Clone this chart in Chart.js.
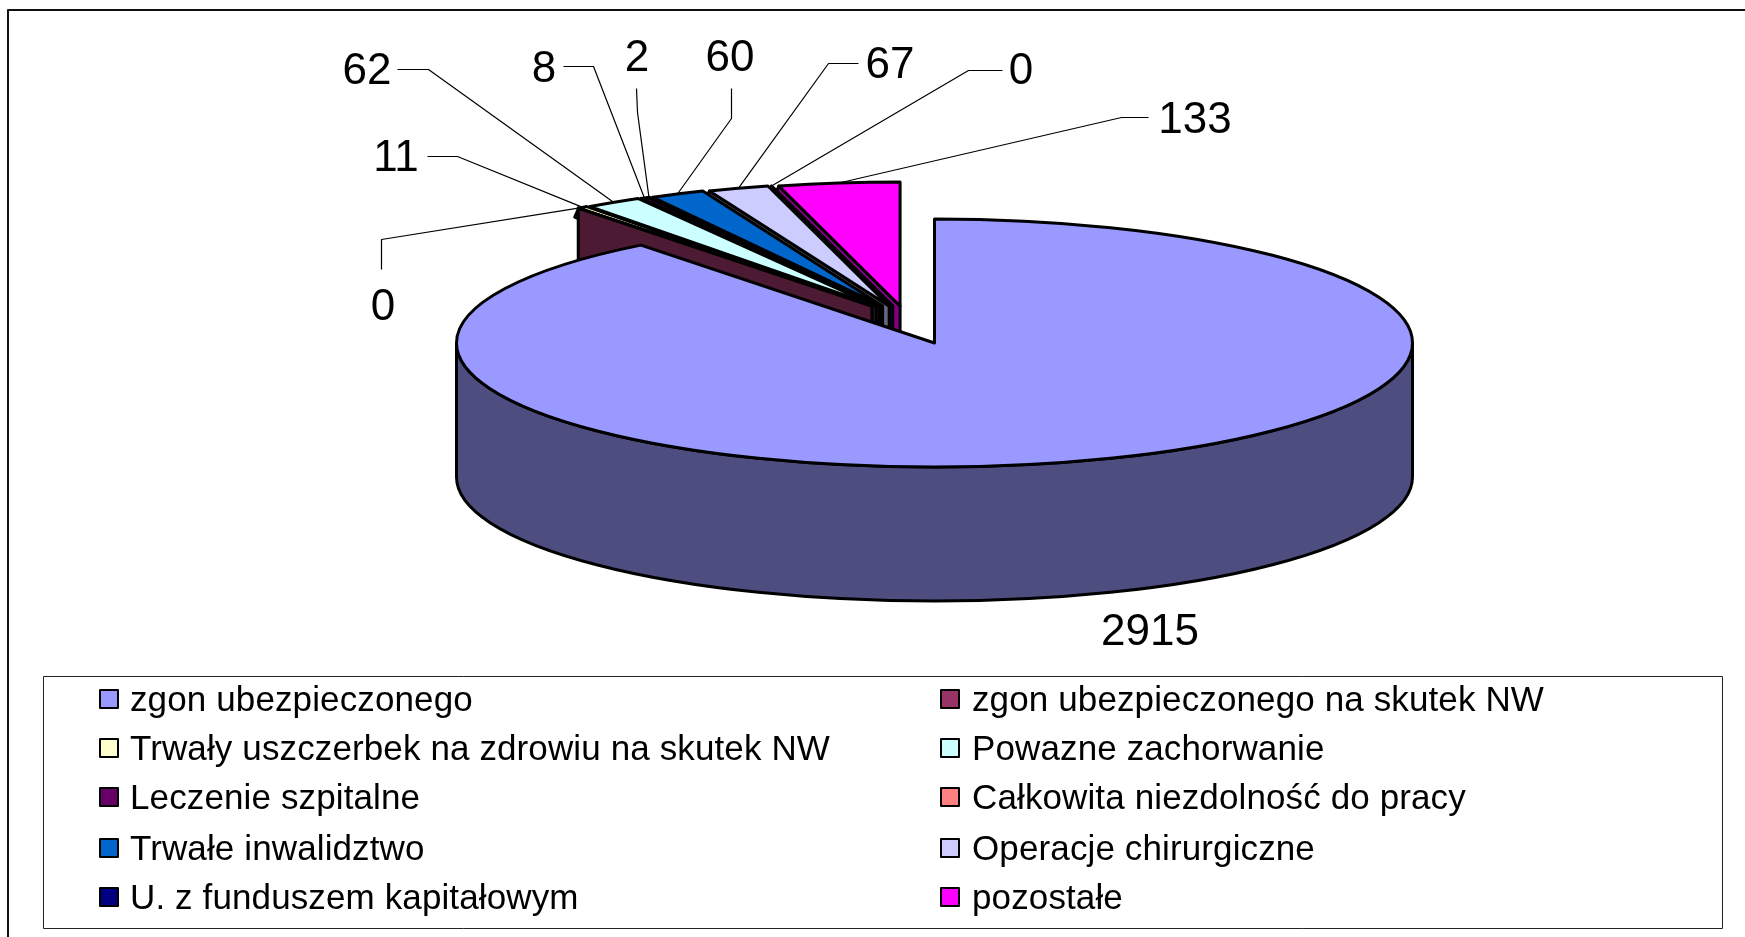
<!DOCTYPE html>
<html><head><meta charset="utf-8">
<style>html,body{margin:0;padding:0;background:#fff;overflow:hidden}canvas{display:block}</style>
<script src="https://cdn.jsdelivr.net/npm/chart.js@4/dist/chart.umd.min.js"></script>
</head><body><canvas id="c" width="1745" height="937"></canvas>
<script>
const categories=["zgon ubezpieczonego","zgon ubezpieczonego na skutek NW","Trwały uszczerbek na zdrowiu na skutek NW","Powazne zachorwanie","Leczenie szpitalne","Całkowita niezdolność do pracy","Trwałe inwalidztwo","Operacje chirurgiczne","U. z funduszem kapitałowym","pozostałe"];
const values=[2915,0,11,62,8,2,60,67,0,133];
const topColors=["#9999FF","#993366","#FFFFCC","#CCFFFF","#660066","#FF8080","#0066CC","#CCCCFF","#000080","#FF00FF"];
const wallColors=["#4D4D80","#4D1A33","#808066","#668080","#330033","#804040","#003366","#666680","#000040","#800080"];
// value label centres and leader bend points (annotation layout)
const labelLayout=[
 {i:0,x:1150,y:633,leader:null},
 {i:1,x:383,y:308,leader:[[381,269],[381,239]]},
 {i:2,x:396,y:159,leader:[[427,156],[457,156]]},
 {i:3,x:367,y:72,leader:[[397,69],[428,69]]},
 {i:4,x:544,y:70,leader:[[563,66],[593,66]]},
 {i:5,x:637,y:59,leader:[[636,88],[637,112]]},
 {i:6,x:730,y:59,leader:[[731,88],[731,118]]},
 {i:7,x:890,y:66,leader:[[858,63],[828,63]]},
 {i:8,x:1021,y:72,leader:[[1002,70],[968,70]]},
 {i:9,x:1195,y:121,leader:[[1148,117],[1121,117]]}
];
const FONT='"Liberation Sans", Arial, sans-serif';
const CX=934.5,CY=343,R=478,K=124/478,DEPTH=134,LW=3;
const legendBox={l:43.5,t:676.5,r:1722.5,b:928.5};
const legendCols=[{sw:100,tx:130},{sw:941,tx:972}];
const legendRows=[699,748,797,848,897];

function shift(el,idx){
  if(idx===0) return {x:CX,y:CY};
  const mid=(el.startAngle+el.endAngle)/2+Math.PI/2;
  return {x:CX-27-58*Math.abs(Math.sin(mid)),y:CY-37};
}
function rim(c,a,r){return {x:c.x+Math.cos(a)*r,y:c.y+Math.sin(a)*r*K};}

const scene={
 id:'scene',
 beforeDatasetsDraw(chart){
  const ctx=chart.ctx,arcs=chart.getDatasetMeta(0).data;
  ctx.lineJoin='round';ctx.lineWidth=LW;ctx.strokeStyle='#000';
  const face=(el,idx)=>{
    const c=shift(el,idx);
    ctx.save();ctx.translate(c.x,c.y);ctx.scale(1,K);ctx.translate(-el.x,-el.y);el.draw(ctx);ctx.restore();
    ctx.beginPath();ctx.moveTo(c.x,c.y);
    ctx.ellipse(c.x,c.y,el.outerRadius,el.outerRadius*K,0,el.startAngle,el.endAngle);
    ctx.closePath();ctx.stroke();
  };
  // exploded small slices, right to left: cut-face first, then the top
  for(let i=arcs.length-1;i>=1;i--){
    const el=arcs[i],c=shift(el,i),p=rim(c,el.startAngle,el.outerRadius);
    const dRim=i===1?DEPTH:9,dApex=i===1?DEPTH:36;
    ctx.beginPath();ctx.moveTo(c.x,c.y);ctx.lineTo(p.x,p.y);
    ctx.lineTo(p.x-(i===1?0:4),p.y+dRim);ctx.lineTo(c.x,c.y+dApex);ctx.closePath();
    ctx.fillStyle=wallColors[i];ctx.fill();ctx.stroke();
    face(el,i);
  }
  // main slice: outer wall, then top
  const big=arcs[0],r=big.outerRadius;
  ctx.beginPath();
  ctx.ellipse(CX,CY,r,r*K,0,0,Math.PI);
  ctx.lineTo(CX-r,CY+DEPTH);
  ctx.ellipse(CX,CY+DEPTH,r,r*K,0,Math.PI,0,true);
  ctx.closePath();ctx.fillStyle=wallColors[0];ctx.fill();ctx.stroke();
  face(big,0);
  return false;
 },
 afterDraw(chart){
  const ctx=chart.ctx,arcs=chart.getDatasetMeta(0).data;
  ctx.save();
  // outer frame
  ctx.strokeStyle='#111';ctx.lineWidth=2;
  ctx.beginPath();ctx.moveTo(8,937);ctx.lineTo(8,10);ctx.lineTo(1745,10);ctx.stroke();
  // leaders + labels
  ctx.lineWidth=1.2;ctx.strokeStyle='#000';
  ctx.fillStyle='#000';ctx.font='44px '+FONT;ctx.textAlign='center';ctx.textBaseline='middle';
  labelLayout.forEach(l=>{
    if(l.leader){
      const el=arcs[l.i],c=shift(el,l.i),p=rim(c,(el.startAngle+el.endAngle)/2,el.outerRadius);
      ctx.beginPath();ctx.moveTo(l.leader[0][0]+.5,l.leader[0][1]+.5);ctx.lineTo(l.leader[1][0]+.5,l.leader[1][1]+.5);ctx.lineTo(p.x,p.y);ctx.stroke();
    }
    ctx.fillText(String(values[l.i]),l.x,l.y);
  });
  // legend
  ctx.strokeStyle='#222';ctx.lineWidth=1;
  ctx.strokeRect(legendBox.l,legendBox.t,legendBox.r-legendBox.l,legendBox.b-legendBox.t);
  ctx.textAlign='left';ctx.font='35px '+FONT;ctx.letterSpacing='0.12px';
  categories.forEach((name,i)=>{
    const col=legendCols[i%2],y=legendRows[Math.floor(i/2)];
    ctx.fillStyle=topColors[i];ctx.fillRect(col.sw,y-9,18,18);
    ctx.strokeStyle='#000';ctx.lineWidth=2;ctx.strokeRect(col.sw,y-9,18,18);
    ctx.fillStyle='#000';ctx.fillText(name,col.tx,y+2.5);
  });
  ctx.restore();
 }
};
new Chart(document.getElementById('c'),{
 type:'pie',
 data:{labels:categories,datasets:[{data:values,backgroundColor:topColors,borderWidth:0,radius:R}]},
 options:{responsive:false,animation:false,layout:{padding:0},
  plugins:{legend:{display:false},tooltip:{enabled:false}}},
 plugins:[scene]
});
</script></body></html>
